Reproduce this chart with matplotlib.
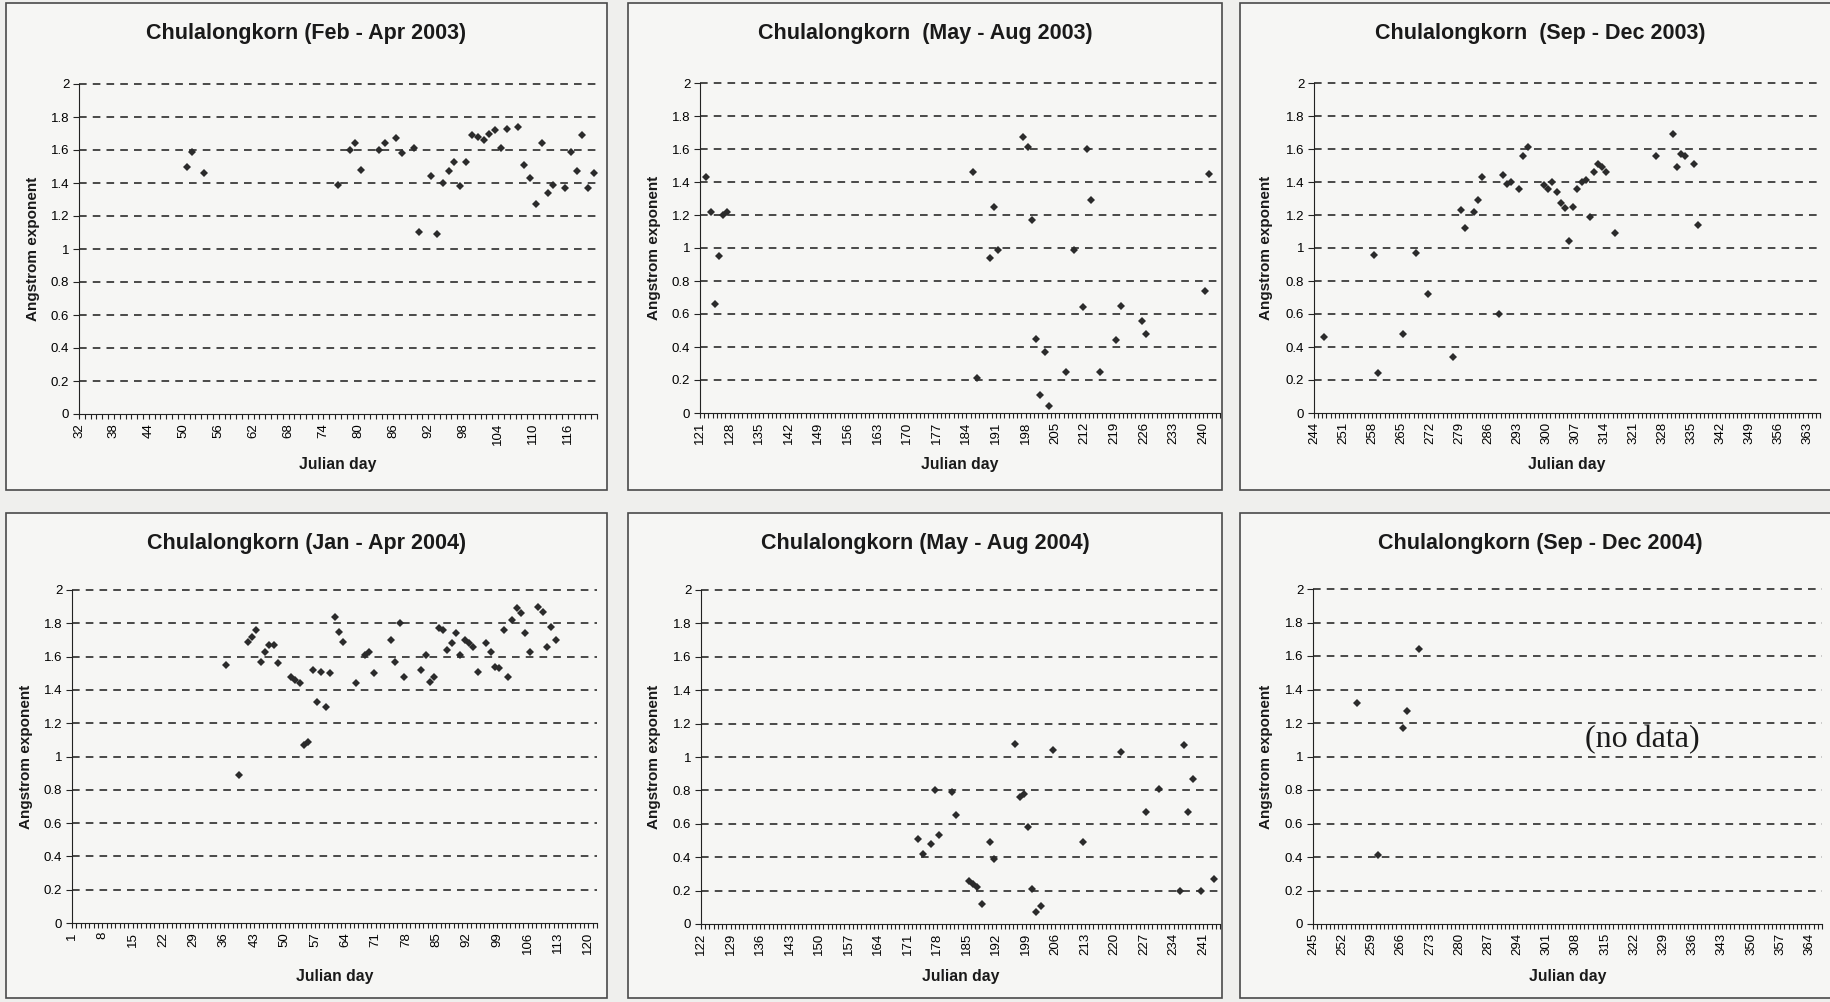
import matplotlib
matplotlib.use("Agg")
import matplotlib.pyplot as plt
from matplotlib.patches import Rectangle
from matplotlib.ticker import FixedLocator, FuncFormatter

W, H = 1830, 1002

titles = ["Chulalongkorn (Feb - Apr 2003)", "Chulalongkorn  (May - Aug 2003)",
          "Chulalongkorn  (Sep - Dec 2003)", "Chulalongkorn (Jan - Apr 2004)",
          "Chulalongkorn (May - Aug 2004)", "Chulalongkorn (Sep - Dec 2004)"]

# day ranges of each panel (first day, last day, label step)
ranges = [(32, 120, 6), (121, 243, 7), (244, 365, 7),
          (1, 121, 7), (122, 244, 7), (245, 366, 7)]

days1 = [50, 51, 53, 76, 78, 79, 80, 83, 84, 86, 87, 89, 90, 92, 93, 94, 95, 96, 97, 98,
         99, 100, 101, 102, 103, 104, 105, 107, 108, 109, 110, 111, 112, 113, 115, 116, 117, 118, 119, 120]
vals1 = [1.50, 1.59, 1.46, 1.39, 1.60, 1.64, 1.48, 1.60, 1.64, 1.67, 1.58, 1.61, 1.10, 1.44, 1.09, 1.40, 1.47, 1.53, 1.38, 1.53,
         1.69, 1.68, 1.66, 1.70, 1.72, 1.61, 1.73, 1.74, 1.51, 1.43, 1.27, 1.64, 1.34, 1.39, 1.37, 1.59, 1.47, 1.69, 1.37, 1.46]

days2 = [122, 123, 124, 125, 126, 127, 185, 186, 189, 190, 191, 197, 198, 199, 200, 201, 202, 203, 207, 209,
         211, 212, 213, 215, 219, 220, 225, 226, 240, 241]
vals2 = [1.43, 1.22, 0.66, 0.95, 1.20, 1.22, 1.46, 0.21, 0.94, 1.25, 0.99, 1.67, 1.61, 1.17, 0.45, 0.11, 0.37, 0.04, 0.25, 0.99,
         0.64, 1.60, 1.29, 0.25, 0.44, 0.65, 0.56, 0.48, 0.74, 1.45]

days3 = [246, 258, 259, 265, 268, 271, 277, 279, 280, 282, 283, 284, 288, 289, 290, 291, 293, 294, 295, 299,
         300, 301, 302, 303, 304, 305, 306, 307, 308, 309, 310, 311, 312, 313, 314, 316, 326, 330, 331, 332,
         333, 335, 336]
vals3 = [0.46, 0.96, 0.24, 0.48, 0.97, 0.72, 0.34, 1.23, 1.12, 1.22, 1.29, 1.43, 0.60, 1.44, 1.39, 1.40, 1.36, 1.56, 1.61, 1.38,
         1.36, 1.40, 1.34, 1.27, 1.24, 1.04, 1.25, 1.36, 1.40, 1.41, 1.19, 1.46, 1.51, 1.49, 1.46, 1.09, 1.56, 1.69, 1.49, 1.57,
         1.56, 1.51, 1.14]

days4 = [36, 39, 41, 42, 43, 44, 45, 46, 47, 48, 51, 52, 53, 54, 55, 56, 57, 58, 59, 60,
         61, 62, 63, 66, 68, 69, 70, 74, 75, 76, 77, 81, 82, 83, 84, 85, 86, 87, 88, 89,
         90, 91, 92, 93, 94, 96, 97, 98, 99, 100, 101, 102, 103, 104, 105, 106, 108, 109, 110, 111, 112]
vals4 = [1.55, 0.89, 1.69, 1.72, 1.76, 1.57, 1.63, 1.67, 1.67, 1.56, 1.48, 1.46, 1.44, 1.07, 1.09, 1.52, 1.33, 1.51, 1.30, 1.50,
         1.84, 1.75, 1.69, 1.44, 1.61, 1.63, 1.50, 1.70, 1.57, 1.80, 1.48, 1.52, 1.61, 1.45, 1.48, 1.77, 1.76, 1.64, 1.68, 1.74,
         1.61, 1.70, 1.68, 1.66, 1.51, 1.68, 1.63, 1.54, 1.53, 1.76, 1.48, 1.82, 1.89, 1.86, 1.74, 1.63, 1.90, 1.87, 1.66, 1.78, 1.70]

days5 = [173, 174, 176, 177, 178, 181, 182, 185, 186, 187, 188, 190, 191, 196, 197, 198, 199, 200, 201, 202,
         205, 212, 221, 227, 230, 235, 236, 237, 238, 240, 243]
vals5 = [0.51, 0.42, 0.48, 0.80, 0.53, 0.79, 0.65, 0.26, 0.24, 0.22, 0.12, 0.49, 0.39, 1.08, 0.76, 0.78, 0.58, 0.21, 0.07, 0.11,
         1.04, 0.49, 1.03, 0.67, 0.81, 0.20, 1.07, 0.67, 0.87, 0.20, 0.27]

days6 = [255, 260, 266, 267, 270]
vals6 = [1.32, 0.41, 1.17, 1.27, 1.64]

all_days = [days1, days2, days3, days4, days5, days6]
all_vals = [vals1, vals2, vals3, vals4, vals5, vals6]

# layout in pixels: axes (left, right, top, bottom), box (x0, y0, x1, y1)
axes_px = [(79, 597, 84, 414), (700, 1220, 83, 413), (1314, 1820, 83, 413),
           (72, 597, 590, 923), (701, 1220, 590, 924), (1313, 1822, 589, 924)]
boxes_px = [(6, 3, 607, 490), (628, 3, 1222, 490), (1240, 3, 1840, 490),
            (6, 513, 607, 998), (628, 513, 1222, 998), (1240, 513, 1840, 998)]
ylabel_x = [33, 654, 1266, 26, 654, 1266]
row_title_y = [33, 543]
row_xlabel_y = [465, 976]

plt.rcParams['font.family'] = ['Liberation Sans', 'DejaVu Sans']

fig = plt.figure(figsize=(W / 100, H / 100), dpi=100, facecolor='#efefed')

for i in range(6):
    x0, y0, x1, y1 = boxes_px[i]
    fig.add_artist(Rectangle((x0 / W, 1 - y1 / H), (x1 - x0) / W, (y1 - y0) / H,
                             transform=fig.transFigure, facecolor='#f6f6f4',
                             edgecolor='#4a4a4a', linewidth=1.2, zorder=0))

for i in range(6):
    l, r, t, b = axes_px[i]
    ax = fig.add_axes([l / W, 1 - b / H, (r - l) / W, (b - t) / H])
    ax.set_facecolor('none')
    first, last, step = ranges[i]
    ax.set_xlim(first, last + 1)
    ax.set_ylim(0, 2)

    # dashed gridlines
    for g in [0.2, 0.4, 0.6, 0.8, 1.0, 1.2, 1.4, 1.6, 1.8, 2.0]:
        ax.axhline(g, color='#1a1a1a', linewidth=1.1, linestyle=(0, (5, 4)),
                   zorder=1, clip_on=False)

    # categories are centred between tick marks (Excel style)
    xs = [d + 0.5 for d in all_days[i]]
    ax.plot(xs, all_vals[i], linestyle='none', marker='D', markersize=4.2,
            color='#2b2b2b', markeredgewidth=0, zorder=3, clip_on=False)

    ax.spines['top'].set_visible(False)
    ax.spines['right'].set_visible(False)
    ax.spines['left'].set_color('#222222')
    ax.spines['bottom'].set_color('#222222')

    ax.xaxis.set_major_locator(FixedLocator(list(range(first, last + 1, step))))
    ax.xaxis.set_minor_locator(FixedLocator(list(range(first, last + 2))))
    ax.tick_params(axis='x', which='both', direction='out', length=3.5, width=0.8,
                   color='#222222', labelsize=9.5, rotation=90, pad=3)
    ax.set_yticks([0, 0.2, 0.4, 0.6, 0.8, 1.0, 1.2, 1.4, 1.6, 1.8, 2.0])
    ax.yaxis.set_major_formatter(FuncFormatter(lambda v, p: '%g' % round(v, 1)))
    ax.tick_params(axis='y', direction='out', length=4, width=0.8, color='#222222',
                   labelsize=9.5, pad=3)

    bx0, by0, bx1, by1 = boxes_px[i]
    row = i // 3
    fig.text(((bx0 + bx1) / 2) / W, 1 - row_title_y[row] / H, titles[i],
             ha='center', va='center', fontsize=15.5, fontweight='bold', color='#1a1a1a')
    fig.text(((l + r) / 2) / W, 1 - row_xlabel_y[row] / H, 'Julian day',
             ha='center', va='center', fontsize=11.3, fontweight='bold', color='#1a1a1a')
    fig.text(ylabel_x[i] / W, 1 - ((t + b) / 2) / H, 'Angstrom exponent', rotation=90,
             ha='center', va='center', fontsize=11, fontweight='bold', color='#1a1a1a')

    if i == 5:
        ax.text(324, 1.1, '(no data)', ha='center', va='center', fontsize=23,
                family=['Liberation Serif', 'DejaVu Serif'], color='#1a1a1a', zorder=4)

fig.savefig('out.png', dpi=100, facecolor=fig.get_facecolor())
